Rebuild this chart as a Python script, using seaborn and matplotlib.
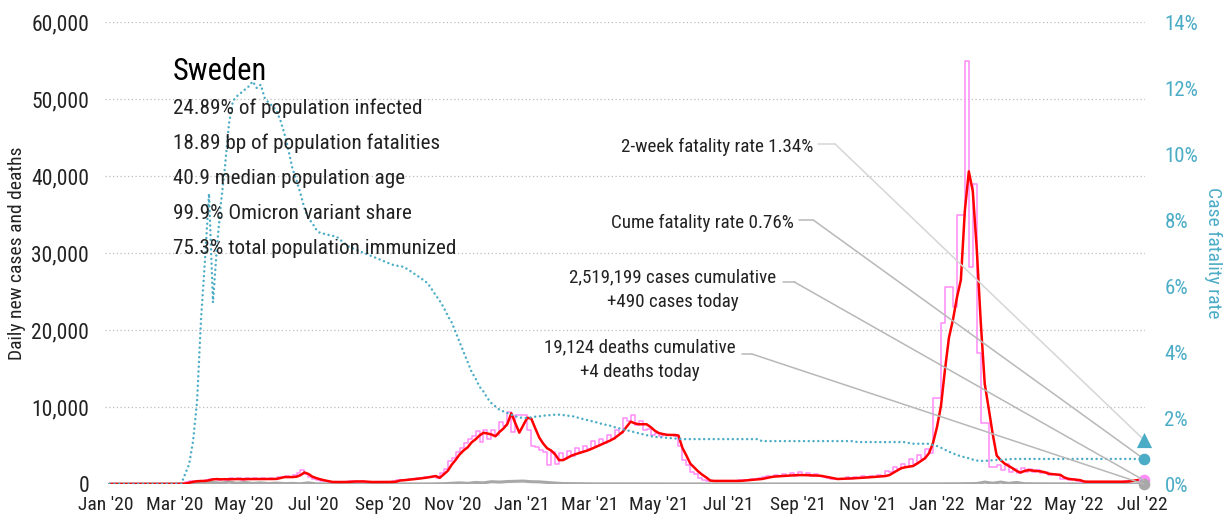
import matplotlib
matplotlib.use("Agg")
import matplotlib.pyplot as plt
import matplotlib.dates as mdates
from matplotlib.ticker import MultipleLocator, FuncFormatter
import pandas as pd
import seaborn as sns

# ---- Data: Sweden, sampled every 3.5 days from 2020-01-04 to 2022-07-02 ----
# 7-day average of new cases
cases_avg = [
    0, 0, 0, 0, 0, 0, 0, 0, 0, 0, 0, 0, 0, 0, 0, 0,
    5, 10, 30, 50, 170, 280, 360, 390, 400, 480, 600, 640,
    600, 620, 610, 630, 640, 630, 620, 640, 640, 630, 640, 650, 640, 650, 660,
    780, 900, 900, 900, 950, 1150, 1500, 1300, 950, 760, 610, 480, 370, 270,
    260, 260, 260, 270, 300, 330, 330, 330, 290, 260, 260, 260, 260, 260, 270, 300,
    450, 490, 550, 600, 650, 710, 780, 850, 940, 1030, 800, 1250, 1700, 2500,
    3130, 3840, 4360, 4750, 5400, 5800, 6300, 6650, 6560, 6430, 6200, 6750, 7200,
    7800, 9190, 7900, 6670, 7650, 8600, 8500, 7250, 6050, 5250, 4640, 4350, 3850,
    3100, 3100, 3380, 3650, 3850, 4010, 4170, 4330, 4530, 4760, 5000, 5230, 5460,
    5680, 5970, 6370, 6770, 7450, 8100, 7880, 7760, 7760, 7760, 7400, 6950, 6630,
    6500, 6390, 6370, 6370, 6300, 4700, 3700, 2640, 2140, 1620, 1200, 850, 450,
    400, 400, 400, 400, 400, 400, 400, 420, 470, 510, 560, 600, 650, 760, 870,
    960, 1000, 1030, 1060, 1100, 1130, 1160, 1160, 1150, 1130, 1110, 1090, 1050,
    950, 850, 740, 650, 670, 690, 710, 740, 770, 800, 830, 870, 910, 950, 990,
    1030, 1150, 1450, 1750, 2050, 2170, 2260, 2340, 2650, 3000, 3350, 4000,
    5330, 7400, 10150, 14820, 19000, 21300, 24200, 26500, 35500, 40600, 38000,
    30500, 21000, 13000, 9800, 6500,
    3700, 3100, 2650, 2350, 2050, 1700, 1480, 1700, 1800, 1750, 1700, 1640, 1540,
    1350, 1280, 1230, 1190, 850, 680, 610, 560, 500, 320,
    300, 300, 300, 300, 300, 300, 300, 300, 300, 300, 320, 400, 480, 550, 600,
]

# reported new cases (step series)
cases_daily = [
    0, 0, 0, 0, 0, 0, 0, 0, 0, 0, 0, 0, 0, 0, 0, 0,
    10, 30, 60, 200, 330, 380, 420, 430, 560, 650, 700, 580,
    700, 560, 720, 600, 760, 580, 720, 620, 780, 600, 740, 620, 800, 700, 950,
    880, 1100, 850, 1200, 1400, 1800, 1300, 950, 700, 560, 420, 330, 260, 300,
    240, 300, 250, 330, 380, 300, 400, 280, 250, 290, 240, 300, 250, 320, 330, 480,
    520, 560, 680, 620, 750, 780, 900, 950, 1100, 800, 1400, 2000, 3000, 3400,
    4200, 4700, 5300, 5900, 6200, 6900, 5500, 7000, 5800, 7000, 6300, 8000, 7500,
    9300, 6800, 9000, 9000, 9000, 7000, 5000, 4800, 4400, 4200, 2500, 4200, 2600,
    4000, 3300, 4300, 3700, 4700, 4100, 5000, 4500, 5600, 5000, 5900, 5300, 6400,
    5800, 7000, 6600, 8600, 8200, 9000, 7600, 8200, 7000, 7200, 6400, 6600, 6200,
    6500, 6300, 6400, 6200, 5000, 3100, 2500, 1600, 1300, 800, 500, 420, 380,
    420, 350, 450, 380, 420, 400, 480, 500, 560, 620, 650, 800, 900, 1000, 950,
    1200, 1000, 1300, 1100, 1400, 1100, 1500, 1150, 1450, 1100, 1300, 1000, 900,
    750, 650, 620, 700, 650, 900, 700, 950, 780, 1000, 850, 1050, 950, 1200, 1100,
    1700, 1500, 2200, 1900, 2600, 2200, 3200, 2600, 3800, 3200, 4500, 4000,
    11200, 11200, 20900, 25600, 25600, 23000, 35000, 35000, 55000, 28200, 39000,
    17000, 7900, 7900, 2200, 2200,
    2500, 1800, 2600, 1500, 2000, 1400, 2100, 1600, 2000, 1500, 1800, 1400, 1500,
    1200, 1300, 1150, 600, 650, 550, 600, 400, 300, 300,
    280, 320, 280, 300, 280, 320, 300, 300, 320, 350, 400, 450, 520, 560, 490,
]

# cumulative case fatality rate, %
cfr_pct = [
    0, 0, 0, 0, 0, 0, 0, 0, 0, 0, 0, 0, 0, 0, 0, 0, 0, 0, 0,
    0.3, 0.6, 1.3, 2.5, 5.0, 6.8, 8.8, 5.5, 7.2, 8.5,
    9.6, 10.9, 11.6, 11.75, 11.85, 11.95, 12.05, 12.2, 12.0, 12.1,
    11.7, 11.55, 11.45, 11.3, 11.0, 10.6, 10.1, 9.55, 9.2, 8.8,
    8.35, 8.05, 7.9, 7.7, 7.6, 7.58, 7.55, 7.52, 7.5, 7.4,
    7.3, 7.2, 7.15, 7.1, 7.05, 7.0, 6.95, 6.9, 6.85, 6.8,
    6.75, 6.7, 6.65, 6.62, 6.6, 6.58, 6.5, 6.42, 6.34, 6.26,
    6.17, 6.08, 5.9, 5.72, 5.55, 5.35, 5.1, 4.9, 4.6, 4.3,
    4.0, 3.7, 3.4, 3.2, 2.95, 2.8, 2.6, 2.45, 2.35, 2.25,
    2.2, 2.15, 2.1, 2.05, 2.02, 2.0, 2.0, 2.02, 2.04, 2.05,
    2.07, 2.08, 2.09, 2.1, 2.1, 2.09, 2.07, 2.06, 2.04, 2.0,
    1.97, 1.94, 1.91, 1.88, 1.85, 1.81, 1.79, 1.76, 1.72, 1.69,
    1.66, 1.63, 1.6, 1.57, 1.54, 1.51, 1.48, 1.45, 1.43, 1.42,
    1.41, 1.40, 1.39, 1.38, 1.37,
    1.36, 1.36, 1.36, 1.36, 1.36, 1.36, 1.36, 1.36, 1.36, 1.36,
    1.36, 1.36, 1.36, 1.36, 1.36, 1.36, 1.36, 1.36, 1.36, 1.36,
    1.30, 1.30, 1.30, 1.30, 1.30, 1.30, 1.30, 1.30, 1.30, 1.30, 1.30, 1.30,
    1.30, 1.30, 1.30, 1.30, 1.30, 1.30, 1.30, 1.30, 1.30, 1.30, 1.30, 1.30,
    1.27, 1.27, 1.27, 1.27, 1.27, 1.27, 1.27, 1.27, 1.27, 1.27, 1.27, 1.27, 1.27,
    1.24, 1.22, 1.22, 1.22, 1.22, 1.22,
    1.18, 1.15, 1.10, 1.04, 0.98, 0.93, 0.88, 0.84, 0.81, 0.78,
    0.74, 0.71, 0.70, 0.70, 0.71, 0.72, 0.73, 0.73, 0.74, 0.75,
    0.76, 0.76, 0.76, 0.76, 0.76, 0.76, 0.76, 0.76, 0.76, 0.76, 0.76, 0.76,
    0.76, 0.76, 0.76, 0.76, 0.76, 0.76, 0.76, 0.76, 0.76, 0.76, 0.76, 0.76,
    0.76, 0.76, 0.76, 0.76, 0.76, 0.76, 0.76, 0.76, 0.76, 0.76,
]

# reported new deaths, weekly samples
deaths_daily = [
    0, 0, 0, 0, 0, 0, 0, 0, 0, 0,
    10, 60, 150, 200, 120, 250, 100, 200, 80, 150, 60, 120, 50, 80, 30, 150, 20,
    10, 5, 5, 5, 5, 3, 3, 3, 3, 3, 3, 5, 5, 10,
    20, 40, 100, 150, 80, 200, 150, 300, 250, 320, 350, 380, 300, 280, 200, 120,
    60, 50, 40, 30, 20, 25, 20, 20, 20, 15, 15, 10, 10, 10, 8, 5,
    3, 2, 2, 2, 2, 2, 2, 3, 3, 3, 4, 5, 5, 5, 5, 6, 6, 6, 5, 5, 5, 5,
    5, 6, 7, 8, 10, 12, 12, 15, 15, 18,
    20, 25, 35, 50, 60, 250, 100, 250, 80, 200, 40, 30, 25, 20, 15, 12, 10,
    8, 6, 6, 5, 5, 5, 4, 4, 4,
]

country = "Sweden"
stats_lines = [
    "24.89% of population infected",
    "18.89 bp of population fatalities",
    "40.9 median population age",
    "99.9% Omicron variant share",
    "75.3% total population immunized",
]
cume_cases = 2519199
cases_today = 490
cume_deaths = 19124
deaths_today = 4
cume_cfr = 0.76
two_week_cfr = 1.34

dates = pd.date_range("2020-01-04", periods=len(cases_avg), freq="84h")
death_dates = dates[::2]
assert len(cases_daily) == len(dates) == len(cfr_pct), (len(cases_daily), len(dates), len(cfr_pct))
assert len(deaths_daily) == len(death_dates), (len(deaths_daily), len(death_dates))
last_date = dates[-1]

TEAL = "#4BACC6"
PINK = "#FF8CF8"
RED = "#FF0000"
GREY = "#A8A8A8"
INK = "#222222"

sns.set_theme(style="white")
plt.rcParams["font.family"] = ["Roboto Condensed", "DejaVu Sans"]

fig = plt.figure(figsize=(12.29, 5.23), dpi=100)
ax = fig.add_axes([105 / 1229, 39 / 523, 1040 / 1229, 462 / 523])
ax2 = ax.twinx()

# ---- series ----
sns.lineplot(x=death_dates, y=deaths_daily, ax=ax, color=GREY, linewidth=2.2)
sns.lineplot(x=dates, y=cases_daily, ax=ax, color=PINK, linewidth=1.1,
             drawstyle="steps-post")
sns.lineplot(x=dates, y=cases_avg, ax=ax, color=RED, linewidth=1.8)
sns.lineplot(x=dates, y=cfr_pct, ax=ax2, color=TEAL, linewidth=1.8,
             linestyle=(0, (0.01, 1.9)), dash_capstyle="round")

# ---- end-point markers ----
sns.scatterplot(x=[last_date], y=[two_week_cfr], ax=ax2, marker="^", s=120,
                color=TEAL, linewidth=0, zorder=6, clip_on=False)
sns.scatterplot(x=[last_date], y=[cume_cfr], ax=ax2, marker="o", s=70,
                color=TEAL, linewidth=0, zorder=6, clip_on=False)
sns.scatterplot(x=[last_date], y=[cases_today], ax=ax, marker="o", s=70,
                color=PINK, linewidth=0, zorder=6, clip_on=False)
sns.scatterplot(x=[last_date], y=[deaths_today], ax=ax, marker="o", s=70,
                color=GREY, linewidth=0, zorder=7, clip_on=False)

# ---- axes ----
ax.set_xlim(pd.Timestamp("2019-12-31"), pd.Timestamp("2022-07-03"))
ax.set_ylim(0, 60000)
ax2.set_ylim(0, 14)
ax.yaxis.set_major_locator(MultipleLocator(10000))
ax.yaxis.set_major_formatter(FuncFormatter(lambda v, _: f"{v:,.0f}"))
ax2.yaxis.set_major_locator(MultipleLocator(2))
ax2.yaxis.set_major_formatter(FuncFormatter(lambda v, _: f"{v:.0f}%"))
ax.xaxis.set_major_locator(mdates.MonthLocator(bymonth=[1, 3, 5, 7, 9, 11]))
ax.xaxis.set_major_formatter(mdates.DateFormatter("%b '%y"))
for a in (ax, ax2):
    a.set_xlabel("")
    a.set_ylabel("")
    for s in a.spines.values():
        s.set_visible(False)

ax.grid(axis="y", color="#BDBDBD", linestyle=(0, (1, 2)), linewidth=0.9)
ax.grid(axis="x", visible=False)
ax2.grid(False)
ax.set_axisbelow(True)

ax.tick_params(axis="both", length=0)
ax.tick_params(axis="x", pad=9, labelsize=14, labelcolor=INK)
ax.tick_params(axis="y", pad=11.5, labelsize=15.5, labelcolor=INK)
ax2.tick_params(axis="y", length=0, pad=14, labelsize=15, labelcolor=TEAL)

fig.text(17 / 1229, 0.516, "Daily new cases and deaths", rotation=90,
         ha="center", va="center", fontsize=14, color=INK)
fig.text(1213 / 1229, 0.516, "Case fatality rate", rotation=270,
         ha="center", va="center", fontsize=14, color=TEAL)

# ---- country summary ----
ax2.text(0.0654, 0.8745, country, transform=ax2.transAxes, fontsize=22,
         color="black", ha="left", va="baseline", zorder=8)
for k, line in enumerate(stats_lines):
    ax2.text(0.0654, 0.801 - 0.0758 * k, line, transform=ax2.transAxes,
             fontsize=15.2, color=INK, ha="left", va="baseline", zorder=8)

# ---- callouts with leader lines ----
NOTE_SIZE = 13.7


def leader(start_x, knee_x, y, target, coords, color):
    ax2.plot([start_x, knee_x], [y, y], transform=ax2.transAxes, color=color,
             linewidth=1.1, clip_on=False, zorder=5)
    ax2.annotate("", xy=target, xycoords=coords, xytext=(knee_x, y),
                 textcoords="axes fraction",
                 arrowprops=dict(arrowstyle="-", color=color, linewidth=1.1,
                                 shrinkA=0, shrinkB=0), zorder=5)


end_x = mdates.date2num(last_date)
ax2.text(0.681, 0.7186, f"2-week fatality rate {two_week_cfr:.2f}%",
         transform=ax2.transAxes, ha="right", va="baseline", fontsize=NOTE_SIZE, color=INK)
leader(0.686, 0.702, 0.736, (end_x, two_week_cfr), ax2.transData, "#D6D6D6")

ax2.text(0.6625, 0.554, f"Cume fatality rate {cume_cfr:.2f}%",
         transform=ax2.transAxes, ha="right", va="baseline", fontsize=NOTE_SIZE, color=INK)
leader(0.667, 0.681, 0.5714, (end_x, cume_cfr), ax2.transData, "#B8B8B8")

ax2.text(0.546, 0.437, f"{cume_cases:,} cases cumulative",
         transform=ax2.transAxes, ha="center", va="baseline", fontsize=NOTE_SIZE, color=INK)
ax2.text(0.546, 0.383, f"+{cases_today:,} cases today",
         transform=ax2.transAxes, ha="center", va="baseline", fontsize=NOTE_SIZE, color=INK)
leader(0.652, 0.663, 0.437, (end_x, cases_today), ax.transData, "#B8B8B8")

ax2.text(0.514, 0.2857, f"{cume_deaths:,} deaths cumulative",
         transform=ax2.transAxes, ha="center", va="baseline", fontsize=NOTE_SIZE, color=INK)
ax2.text(0.514, 0.2316, f"+{deaths_today:,} deaths today",
         transform=ax2.transAxes, ha="center", va="baseline", fontsize=NOTE_SIZE, color=INK)
leader(0.6125, 0.622, 0.2814, (end_x, deaths_today), ax.transData, "#B8B8B8")

fig.savefig("out.png", dpi=100)
